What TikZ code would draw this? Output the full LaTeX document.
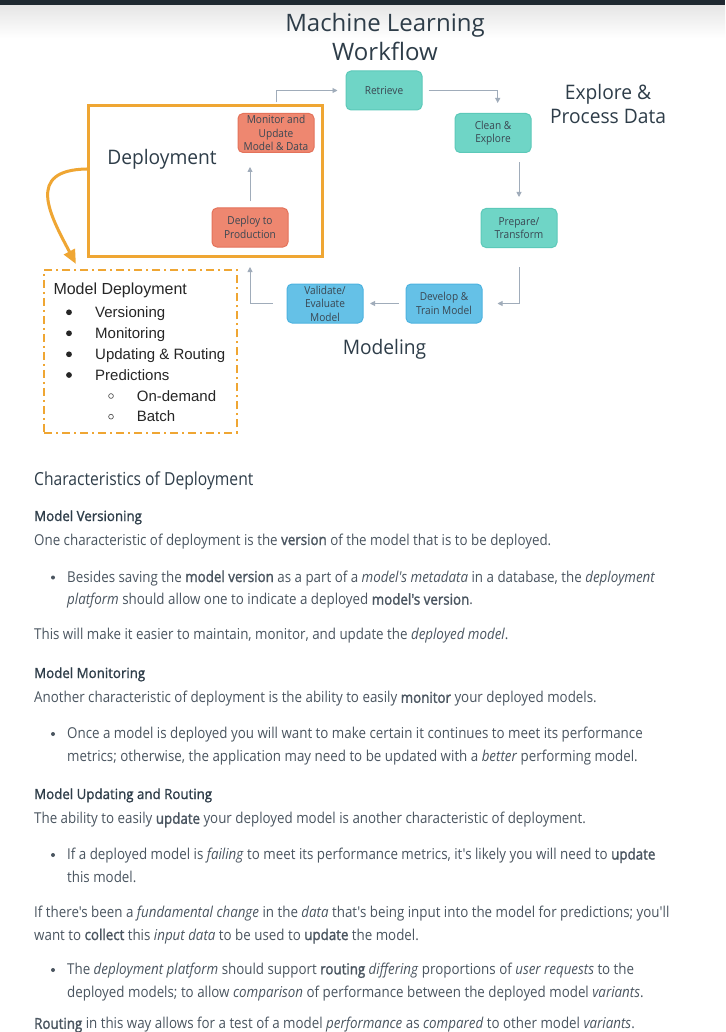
\documentclass[tikz,border=0pt]{standalone}
\usepackage{fontspec}
\setmainfont{Open Sans}
\newfontfamily\bodyfont[FakeStretch=0.89, BoldFont={Open Sans}, BoldFeatures={FakeBold=1.6}]{Open Sans}
\newfontfamily\subfont[FakeStretch=0.95, FakeBold=1.2]{Open Sans}
\newfontfamily\headfont[FakeStretch=0.87]{Open Sans}
\newfontfamily\boxfont[FakeStretch=0.92]{Open Sans}
\newfontfamily\labelfont[FakeStretch=0.96]{Open Sans}
\newfontfamily\arialfont{Liberation Sans}
\usetikzlibrary{arrows.meta,calc}
\definecolor{topbar}{HTML}{1E2830}
\definecolor{headc}{HTML}{2E3D49}
\definecolor{bodyc}{HTML}{4A5560}
\definecolor{boxtext}{HTML}{3A4752}
\definecolor{tealf}{HTML}{6FD5C6}
\definecolor{teald}{HTML}{5CC9B9}
\definecolor{redf}{HTML}{EE8770}
\definecolor{redd}{HTML}{E4725A}
\definecolor{bluef}{HTML}{65C1E7}
\definecolor{blued}{HTML}{4DB3E0}
\definecolor{orangec}{HTML}{EFA633}
\definecolor{arrowc}{HTML}{A0ACBA}
\tikzset{
  flowbox/.style={rounded corners=5pt, minimum width=76pt, minimum height=39pt, line width=1pt, align=center, inner sep=0pt, text=boxtext, font=\boxfont\fontsize{11}{13.6}\selectfont},
  tealbox/.style={flowbox, fill=tealf, draw=teald},
  redbox/.style={flowbox, fill=redf, draw=redd},
  bluebox/.style={flowbox, fill=bluef, draw=blued},
  flow/.style={draw=arrowc, line width=0.9pt, -{Triangle[length=5pt,width=5pt]}},
  biglabel/.style={text=headc, align=center, inner sep=0pt, font=\labelfont\fontsize{20}{24}\selectfont},
  listtxt/.style={anchor=base west, inner sep=0pt, text=black!85, font=\arialfont\fontsize{15}{18}\selectfont},
  bodytxt/.style={anchor=base west, inner sep=0pt, text=bodyc, font=\bodyfont\fontsize{15}{18}\selectfont},
  subhead/.style={anchor=base west, inner sep=0pt, text=headc, font=\subfont\fontsize{14}{17}\selectfont},
  mainhead/.style={anchor=base west, inner sep=0pt, text=headc, font=\headfont\fontsize{18}{21}\selectfont},
}
\begin{document}
\begin{tikzpicture}[x=1pt,y=-1pt]
\useasboundingbox (0,0) rectangle (725,1032);
\fill[white] (0,0) rectangle (725,1032);
\shade[top color=black!10, bottom color=white] (0,5.5) rectangle (725,38);
\fill[topbar] (0,0) rectangle (725,5.5);

% title
\node[text=headc, align=center, inner sep=0pt, font=\fontsize{24}{29}\selectfont] (title) at (385,37) {Machine Learning\\Workflow};

% flow boxes
\node[tealbox] (retrieve) at (384,90.5) {Retrieve};
\node[tealbox] (clean) at (493,133) {Clean \&\\Explore};
\node[tealbox] (prepare) at (519,228) {Prepare/\\Transform};
\node[bluebox] (develop) at (444,303.5) {Develop \&\\Train Model};
\node[bluebox] (validate) at (325,303.5) {Validate/\\Evaluate\\Model};
\node[redbox] (deploy) at (250,227.5) {Deploy to\\Production};
\node[redbox] (monitor) at (276,133) {Monitor and\\Update\\Model \& Data};

% group labels
\node[biglabel] (explore) at (608,104) {Explore \&\\Process Data};
\node[biglabel] (modeling) at (384.5,349) {Modeling};
\node[biglabel] (deplabel) at (162,159) {Deployment};

% deployment frame
\node[draw=orangec, line width=3pt, minimum width=234.4pt, minimum height=150.7pt, inner sep=0pt] (depbox) at (205.5,181.3) {};

% model deployment dashed box
\node[draw=orangec, line width=2.2pt, dash pattern=on 8pt off 4pt on 2pt off 4pt, minimum width=192.7pt, minimum height=162.7pt, inner sep=0pt] (mdbox) at (140.35,351.35) {};

% flow arrows
\draw[flow] (monitor.north |- depbox.north) ++(0,-2) |- ($(retrieve.west)+(-8,0)$);
\draw[flow] ($(retrieve.east)+(6,0)$) -| ($(clean.north)+(4.7,-10)$);
\draw[flow] ($(clean.south -| prepare.north)+(0,9.5)$) -- ($(prepare.north)+(0,-11)$);
\draw[flow] ($(prepare.south)+(0,19)$) |- ($(develop.east)+(15,0)$);
\draw[flow] ($(develop.west)+(-7,0)$) -- ($(validate.east)+(6.5,0)$);
\draw[flow] ($(validate.west)+(-14,0)$) -| ($(deploy.south)+(0,19.5)$);
\draw[flow] ($(deploy.north)+(0,-6)$) -- ($(deploy.north |- monitor.south)+(0,14)$);

% curved orange arrow
\coordinate (cstart) at ($(depbox.west)+(0,-12.3)$);
\coordinate (cend) at ($(mdbox.north west)+(33,-5)$);
\draw[orangec, line width=3pt, -{Triangle[length=14pt,width=12pt]}] (cstart) .. controls (25,170) and (50,215) .. (cend);

% model deployment list
\node[anchor=base west, inner sep=0pt, text=black!85, font=\arialfont\fontsize{16}{19}\selectfont] (mdtitle) at (53.3,294.5) {Model Deployment};
\node[listtxt] (li1) at (95,317.5) {Versioning};
\node[listtxt] (li2) at (95,338.5) {Monitoring};
\node[listtxt] (li3) at (95,359.5) {Updating \& Routing};
\node[listtxt] (li4) at (95,380.2) {Predictions};
\node[listtxt] (li5) at (136.7,401.2) {On-demand};
\node[listtxt] (li6) at (136.7,421.9) {Batch};
\foreach \yy in {312.3,333.3,354.3,375} \fill[black!85] (69,\yy) circle (2.9pt);
\foreach \yy in {396,416.7} \draw[black!75, line width=0.6pt] (111,\yy) circle (2.4pt);

% body text
\node[mainhead] (h1) at (34,485.7) {Characteristics of Deployment};
\node[subhead] (h2) at (34,521) {Model Versioning};
\node[bodytxt] (t3) at (34,545) {One characteristic of deployment is the \textbf{version} of the model that is to be deployed.};
\node[bodytxt] (t4) at (67,582) {Besides saving the \textbf{model version} as a part of a \textit{model's metadata} in a database, the \textit{deployment}};
\node[bodytxt] (t5) at (67,604.7) {\textit{platform} should allow one to indicate a deployed \textbf{model's version}.};
\node[bodytxt] (t6) at (34,639.5) {This will make it easier to maintain, monitor, and update the \textit{deployed model}.};
\node[subhead] (h7) at (34,678) {Model Monitoring};
\node[bodytxt] (t8) at (34,702.8) {Another characteristic of deployment is the ability to easily \textbf{monitor} your deployed models.};
\node[bodytxt] (t9) at (67,738.5) {Once a model is deployed you will want to make certain it continues to meet its performance};
\node[bodytxt] (t10) at (67,761.5) {metrics; otherwise, the application may need to be updated with a \textit{better} performing model.};
\node[subhead] (h11) at (34,799) {Model Updating and Routing};
\node[bodytxt] (t12) at (34,823.8) {The ability to easily \textbf{update} your deployed model is another characteristic of deployment.};
\node[bodytxt] (t13) at (67,859.5) {If a deployed model is \textit{failing} to meet its performance metrics, it's likely you will need to \textbf{update}};
\node[bodytxt] (t14) at (67,882.5) {this model.};
\node[bodytxt] (t15) at (34,917) {If there's been a \textit{fundamental change} in the \textit{data} that's being input into the model for predictions; you'll};
\node[bodytxt] (t16) at (34,940) {want to \textbf{collect} this \textit{input data} to be used to \textbf{update} the model.};
\node[bodytxt] (t17) at (67,974.3) {The \textit{deployment platform} should support \textbf{routing} \textit{differing} proportions of \textit{user requests} to the};
\node[bodytxt] (t18) at (67,997.3) {deployed models; to allow \textit{comparison} of performance between the deployed model \textit{variants}.};
\node[bodytxt] (t19) at (34,1028.8) {\textbf{Routing} in this way allows for a test of a model \textit{performance} as \textit{compared} to other model \textit{variants}.};
\foreach \yy in {577.5,734,855,970} \fill[bodyc] (53,\yy) circle (2pt);
\end{tikzpicture}
\end{document}
